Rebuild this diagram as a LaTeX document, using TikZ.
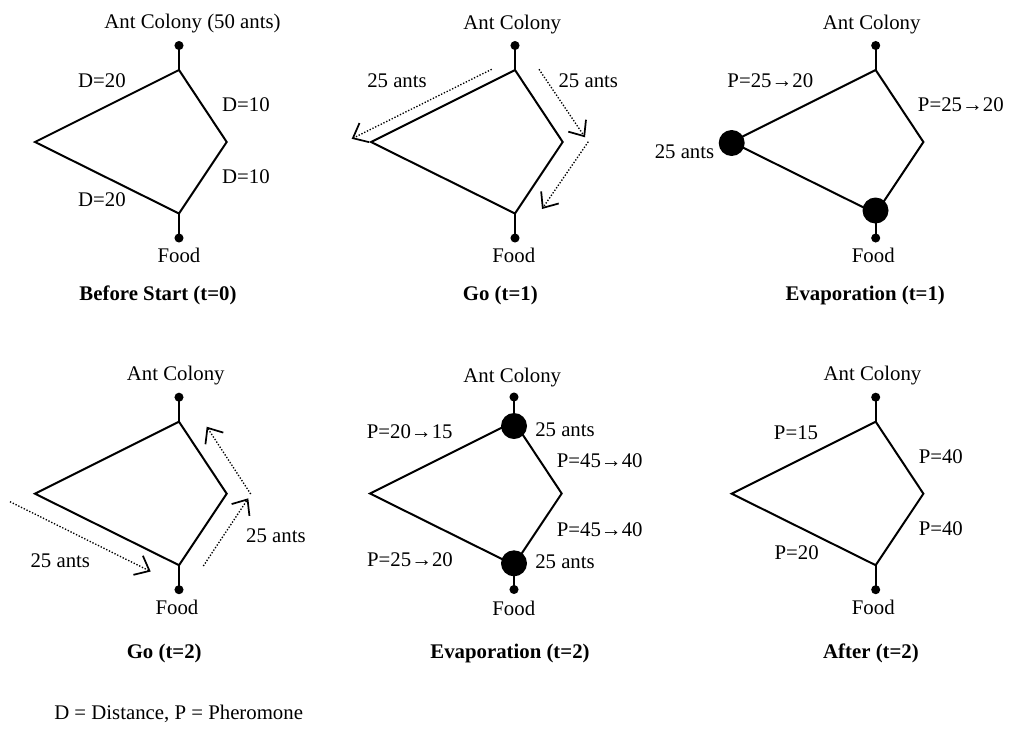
\documentclass[tikz,border=0pt]{standalone}
\usepackage{fontspec}
\setmainfont{Liberation Serif}
\usetikzlibrary{arrows.meta}

% One kite-shaped route graph: colony dot above vertex A, food dot below vertex B
\newcommand\antgraph[3]{%
  \coordinate (#1A) at (#2,#3);
  \coordinate (#1L) at (#2-144,#3+72);
  \coordinate (#1R) at (#2+47.7,#3+72);
  \coordinate (#1B) at (#2,#3+143.5);
  \node[smalldot] (#1T) at (#2,#3-24.5) {};
  \node[smalldot] (#1F) at (#2,#3+168) {};
  \draw[edge] (#1A) -- (#1L) -- (#1B) -- (#1R) -- cycle;
  \draw[edge] (#1T.center) -- (#1A) (#1B) -- (#1F.center);
}

\begin{document}
\begin{tikzpicture}[x=0.75pt,y=-0.75pt,
  edge/.style={line width=1.5pt, line join=miter},
  smalldot/.style={circle, fill=black, inner sep=0pt, minimum size=6.8pt},
  bigdot/.style={circle, fill=black, inner sep=0pt, minimum size=19.5pt},
  lbl/.style={inner sep=0pt, text height=10.3pt, text depth=0pt, font=\fontsize{15.6}{18}\selectfont},
  ttl/.style={lbl, font=\fontsize{15.6}{18}\selectfont\bfseries},
  flow/.style={line width=1pt, dash pattern=on 1pt off 1.3pt,
    -{Straight Barb[length=9.5pt,width=16pt,line width=1.3pt]}}
]
\useasboundingbox (0,0) rectangle (1011,729);

% ---------- Before Start (t=0) ----------
\antgraph{a}{179}{70}
\node[lbl] (aCol) at (192.5,21.7) {Ant Colony (50 ants)};
\node[lbl] (aD1) at (102,80.7) {D=20};
\node[lbl] (aD2) at (246,105) {D=10};
\node[lbl] (aD3) at (246,176.7) {D=10};
\node[lbl] (aD4) at (102,200) {D=20};
\node[lbl] (aFood) at (179,256) {Food};
\node[ttl] (aTitle) at (158,294) {Before Start (t=0)};

% ---------- Go (t=1) ----------
\antgraph{b}{515}{70}
\node[lbl] (bCol) at (512.3,22.7) {Ant Colony};
\node[lbl] (bN1) at (397,81) {25 ants};
\node[lbl] (bN2) at (588.3,81) {25 ants};
\node[lbl] (bFood) at (513.8,256) {Food};
\node[ttl] (bTitle) at (500.3,294) {Go (t=1)};
\coordinate (b1s) at (491.7,69.3);  \coordinate (b1e) at (351.7,138.8);
\coordinate (b2s) at (539,69.3);    \coordinate (b2e) at (585,137.3);
\coordinate (b3s) at (588.3,141.7); \coordinate (b3e) at (542,209);
\draw[flow] (b1s) -- (b1e);
\draw[flow] (b2s) -- (b2e);
\draw[flow] (b3s) -- (b3e);

% ---------- Evaporation (t=1) ----------
\antgraph{c}{875.7}{70}
\node[bigdot] (cAnts1) at (731.7,143) {};
\node[bigdot] (cAnts2) at (875.5,210.5) {};
\node[lbl] (cCol) at (871.7,22.7) {Ant Colony};
\node[lbl] (cP1) at (770.3,80.7) {P=25→20};
\node[lbl] (cP2) at (960.8,104.3) {P=25→20};
\node[lbl] (cN1) at (684.5,152) {25 ants};
\node[lbl] (cFood) at (873.3,256) {Food};
\node[ttl] (cTitle) at (865.3,294) {Evaporation (t=1)};

% ---------- Go (t=2) ----------
\antgraph{d}{179}{421.7}
\node[lbl] (dCol) at (175.8,374) {Ant Colony};
\node[lbl] (dN1) at (60.3,560.7) {25 ants};
\node[lbl] (dN2) at (276,536) {25 ants};
\node[lbl] (dFood) at (177,607.7) {Food};
\node[ttl] (dTitle) at (164.2,651.7) {Go (t=2)};
\coordinate (d1s) at (10,501.7);    \coordinate (d1e) at (150.7,571.5);
\coordinate (d2s) at (203.3,566);   \coordinate (d2e) at (248.3,498.3);
\coordinate (d3s) at (250.7,494);   \coordinate (d3e) at (206.7,426.7);
\draw[flow] (d1s) -- (d1e);
\draw[flow] (d2s) -- (d2e);
\draw[flow] (d3s) -- (d3e);

% ---------- Evaporation (t=2) ----------
\antgraph{e}{514}{421.5}
\node[bigdot] (eAnts1) at (514,426) {};
\node[bigdot] (eAnts2) at (514,563.3) {};
\node[lbl] (eCol) at (512.3,376) {Ant Colony};
\node[lbl] (eP1) at (409.7,431.7) {P=20→15};
\node[lbl] (eN1) at (565,429.3) {25 ants};
\node[lbl] (eP2) at (599.7,460.7) {P=45→40};
\node[lbl] (eP3) at (599.7,530) {P=45→40};
\node[lbl] (eP4) at (410,559.3) {P=25→20};
\node[lbl] (eN2) at (565,561.7) {25 ants};
\node[lbl] (eFood) at (513.8,608.3) {Food};
\node[ttl] (eTitle) at (510,651.7) {Evaporation (t=2)};

% ---------- After (t=2) ----------
\antgraph{f}{875.7}{421.7}
\node[lbl] (fCol) at (872.5,374) {Ant Colony};
\node[lbl] (fP1) at (796,432.7) {P=15};
\node[lbl] (fP2) at (940.8,456.7) {P=40};
\node[lbl] (fP3) at (940.8,528.3) {P=40};
\node[lbl] (fP4) at (796.7,552.3) {P=20};
\node[lbl] (fFood) at (873.3,608) {Food};
\node[ttl] (fTitle) at (871,651.7) {After (t=2)};

% ---------- legend ----------
\node[lbl, anchor=west] (legend) at (54,713) {D = Distance, P = Pheromone};
\end{tikzpicture}
\end{document}
